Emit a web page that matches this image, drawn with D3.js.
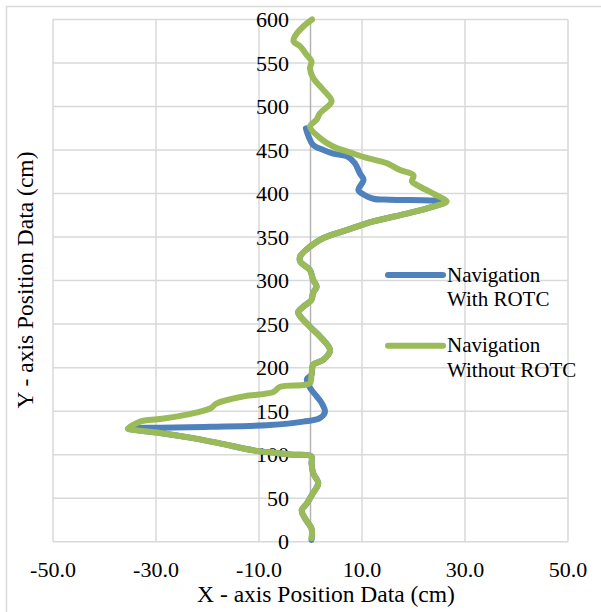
<!DOCTYPE html>
<html>
<head>
<meta charset="utf-8">
<script src="https://cdn.jsdelivr.net/npm/d3@7"></script>
<style>
  body { margin: 0; background: #fff; }
  svg text { font-family: "Liberation Serif", "Times New Roman", serif; }
</style>
</head>
<body>
<div id="container"></div>
<script>
// green series: navigation without ROTC (x, y in cm)
const withoutX = [0.2, 0.2, -1.1, -1.7, -0.7, 0.5, 1.5, 0.5, 0.2, 0.2, -3.4, -6.6, -11.1, -17.6, -22.8, -29.2, -35.0, -35.4,
  -33.1, -29.2, -24.0, -19.5, -18.2, -13.0, -7.2, -5.9, -1.4, -0.1, 0.2, 0.5, 2.5, 3.8, 1.8, -0.1, -2.0, -2.4, -1.4, 0.2,
  0.5, 1.2, 0.5, -0.1, -2.0, -2.0, -0.1, 2.5, 7.0, 12.2, 18.7, 23.8, 26.4, 24.5, 23.2, 20.6, 19.7, 20.0, 17.4, 14.8,
  10.9, 8.3, 4.4, 1.8, -0.1, 1.2, 1.8, 4.1, 2.5, 0.5, -0.1, 0.2, -0.7, -2.0, -3.3, -3.0, -1.4, 0.3];
const withoutY = [4, 15, 27, 36, 44, 56, 67, 79, 90, 98, 100, 102, 105, 113, 119, 125, 129, 130,
  138, 141, 146, 153, 159, 167, 172, 178, 180, 182, 192, 203, 209, 220, 236, 247, 259, 264, 270, 278,
  286, 293, 301, 312, 322, 328, 339, 349, 358, 368, 377, 385, 391, 398, 402, 410, 414, 421, 427, 435,
  441, 446, 454, 464, 477, 485, 492, 506, 519, 533, 544, 552, 559, 569, 575, 581, 592, 600];

// blue series: navigation with ROTC
const withX = [0.2, 0.2, -1.1, -1.7, -0.7, 0.5, 1.5, 0.5, 0.2, 0.2, -3.4, -6.6, -11.1, -17.6, -22.8, -29.2, -35.0, -35.4,
  -29.2, -19.5, -7.9, -1.4, 1.8, 2.8, 2.2, 1.2, 0.0, -0.7, 0.2, 0.5, 2.5, 3.8, 1.8, -0.1, -2.0, -2.4, -1.4, 0.2,
  0.5, 1.2, 0.5, -0.1, -2.0, -2.0, -0.1, 2.5, 7.0, 12.2, 18.7, 23.8, 26.4, 23.2, 15.4, 12.2, 10.3, 9.3, 10.3, 9.6,
  8.6, 7.0, 4.4, 2.5, 0.5, -0.4, -0.9];
const withY = [2, 15, 27, 36, 44, 56, 67, 79, 90, 98, 100, 102, 105, 113, 119, 125, 129, 130,
  131, 132, 134, 138, 142, 149, 159, 167, 176, 187, 192, 203, 209, 220, 236, 247, 259, 264, 270, 278,
  286, 293, 301, 312, 322, 328, 339, 349, 358, 368, 377, 385, 391, 392, 393, 394, 399, 404, 416, 423,
  435, 443, 446, 450, 456, 466, 475];

const xTicks = [-50, -30, -10, 10, 30, 50];
const yTicks = [0, 50, 100, 150, 200, 250, 300, 350, 400, 450, 500, 550, 600];
const seriesNames = [["Navigation", "With ROTC"], ["Navigation", "Without ROTC"]];
const colors = ["#4f81bd", "#9bbb59"];

const font = "Liberation Serif, Times New Roman, serif";
const width = 601, height = 612;
const svg = d3.select("#container").append("svg")
  .attr("width", width)
  .attr("height", height);

// chart border
svg.append("rect")
  .attr("x", 6.5).attr("y", 6.5)
  .attr("width", 620).attr("height", 620)
  .attr("fill", "none")
  .attr("stroke", "#d9d9d9")
  .attr("stroke-width", 1.5);

const x = d3.scaleLinear().domain([-50, 50]).range([53, 568]);
const y = d3.scaleLinear().domain([0, 600]).range([541.7, 19.5]);

// gridlines
svg.append("g")
  .selectAll("line")
  .data(yTicks)
  .join("line")
  .attr("x1", x(-50)).attr("x2", x(50))
  .attr("y1", d => y(d)).attr("y2", d => y(d))
  .attr("stroke", "#d9d9d9")
  .attr("stroke-width", 1.5);

svg.append("g")
  .selectAll("line")
  .data(xTicks)
  .join("line")
  .attr("x1", d => x(d)).attr("x2", d => x(d))
  .attr("y1", y(0)).attr("y2", y(600))
  .attr("stroke", "#d9d9d9")
  .attr("stroke-width", 1.5);

// vertical axis at x = 0
svg.append("line")
  .attr("x1", x(0)).attr("x2", x(0))
  .attr("y1", y(0)).attr("y2", y(600))
  .attr("stroke", "#b4b4b4")
  .attr("stroke-width", 1.5);

// tick labels
svg.append("g")
  .selectAll("text")
  .data(yTicks)
  .join("text")
  .attr("x", 289)
  .attr("y", d => y(d) + 7.5)
  .attr("text-anchor", "end")
  .attr("font-family", font)
  .attr("font-size", 22)
  .attr("fill", "#000")
  .text(d => String(d));

svg.append("g")
  .selectAll("text")
  .data(xTicks)
  .join("text")
  .attr("x", d => x(d))
  .attr("y", 577)
  .attr("text-anchor", "middle")
  .attr("font-family", font)
  .attr("font-size", 22)
  .attr("fill", "#000")
  .text(d => d.toFixed(1));

// axis titles
svg.append("text")
  .attr("x", 326)
  .attr("y", 602)
  .attr("text-anchor", "middle")
  .attr("font-family", font)
  .attr("font-size", 23.5)
  .text("X - axis Position Data (cm)");

svg.append("text")
  .attr("transform", "translate(33,280) rotate(-90)")
  .attr("text-anchor", "middle")
  .attr("font-family", font)
  .attr("font-size", 23.5)
  .text("Y - axis Position Data (cm)");

// series lines
let line = d3.line()
  .x(d => x(d[0]))
  .y(d => y(d[1]))
  .curve(d3.curveCatmullRom.alpha(0.5));

let series = [
  d3.zip(withX, withY),
  d3.zip(withoutX, withoutY)
];

series.forEach((pts, i) => {
  svg.append("path")
    .datum(pts)
    .attr("d", line)
    .attr("fill", "none")
    .attr("stroke", colors[i])
    .attr("stroke-width", 6)
    .attr("stroke-linecap", "round")
    .attr("stroke-linejoin", "round");
});

// legend
let legendY = [275, 345.7];
seriesNames.forEach((names, i) => {
  svg.append("line")
    .attr("x1", 388).attr("x2", 443)
    .attr("y1", legendY[i]).attr("y2", legendY[i])
    .attr("stroke", colors[i])
    .attr("stroke-width", 6)
    .attr("stroke-linecap", "round");
  names.forEach((t, j) => {
    svg.append("text")
      .attr("x", 447)
      .attr("y", legendY[i] + 6.5 + j * 24.5)
      .attr("font-family", font)
      .attr("font-size", 21)
      .text(t);
  });
});
</script>
</body>
</html>
